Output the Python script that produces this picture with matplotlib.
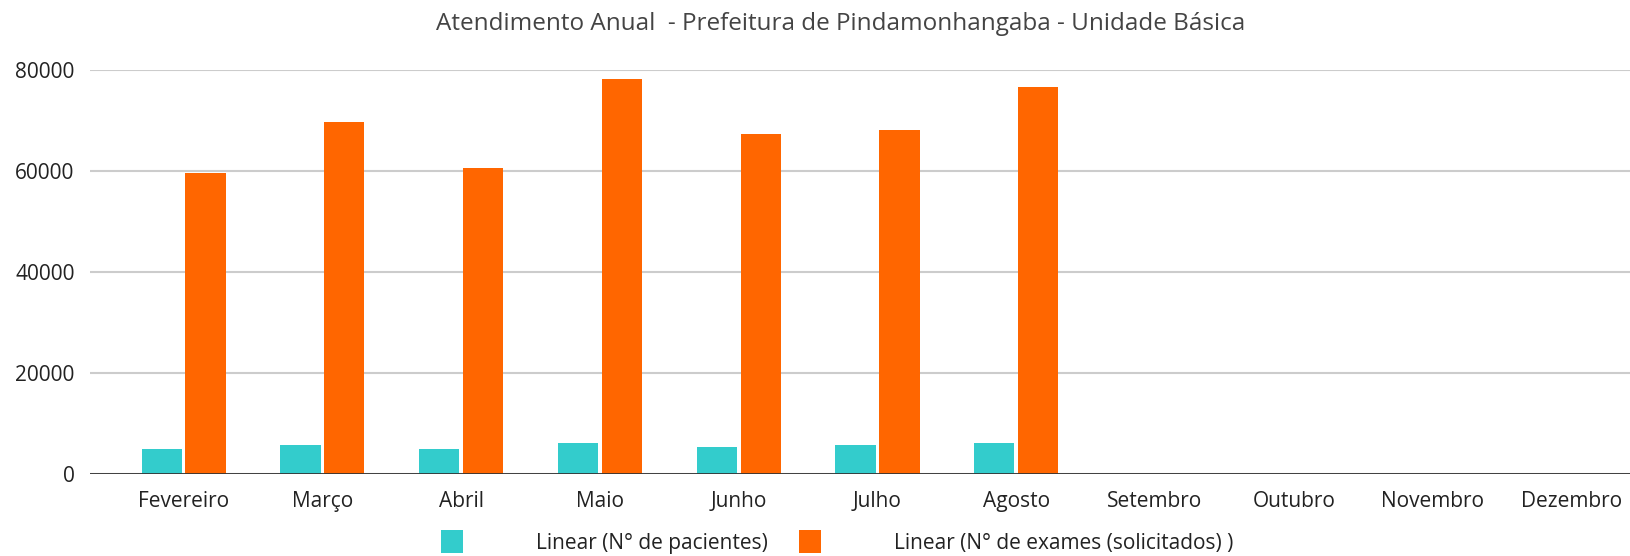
import numpy as np
import matplotlib
matplotlib.use("Agg")
import matplotlib.pyplot as plt

plt.rcParams['font.family'] = ['Open Sans', 'DejaVu Sans']

meses = ['Fevereiro', 'Março', 'Abril', 'Maio', 'Junho', 'Julho', 'Agosto',
         'Setembro', 'Outubro', 'Novembro', 'Dezembro']
pacientes = [4900, 5700, 4900, 6100, 5350, 5700, 6100, 0, 0, 0, 0]
exames = [59600, 69800, 60500, 78200, 67400, 68200, 76600, 0, 0, 0, 0]

titulo = 'Atendimento Anual  - Prefeitura de Pindamonhangaba - Unidade Básica'
rotulos = ['Linear (N° de pacientes)', 'Linear (N° de exames (solicitados) )']


def plot_chart():
    fig = plt.figure(figsize=(16.31, 5.56), dpi=100)
    ax = fig.add_axes([90 / 1631, 1 - 474 / 556, 1 - 90 / 1631, (474 - 70) / 556])

    x = np.arange(len(meses))
    w = 0.29
    ax.bar(x - 0.158, pacientes, width=w, color='#33CCCC', label=rotulos[0], zorder=3)
    ax.bar(x + 0.158, exames, width=w, color='#FF6600', label=rotulos[1], zorder=3)

    ax.set_xlim(-0.675, 10.43)
    ax.set_ylim(0, 80000)
    ax.set_yticks([0, 20000, 40000, 60000, 80000])
    ax.set_xticks(x)
    ax.set_xticklabels(meses)

    ax.grid(axis='y', color='#cccccc', linewidth=1.5, zorder=0)
    ax.axhline(0, color='#333333', linewidth=2, zorder=4)
    for s in ax.spines.values():
        s.set_visible(False)
    ax.tick_params(axis='both', length=0, labelsize=15, colors='#222222')
    ax.tick_params(axis='x', pad=12)
    ax.tick_params(axis='y', pad=11)

    fig.text(841 / 1631, 1 - 24 / 556, titulo, ha='center', va='center',
             fontsize=17.5, color='#444444')

    fig.legend(loc='center', bbox_to_anchor=(837 / 1631, 1 - 542 / 556),
               ncol=2, frameon=False, fontsize=15, handlelength=1.05,
               handleheight=1.25, handletextpad=3.5, columnspacing=1.5,
               borderpad=0, labelcolor='#222222')

    fig.savefig('out.png', dpi=100)


if __name__ == '__main__':
    plot_chart()
